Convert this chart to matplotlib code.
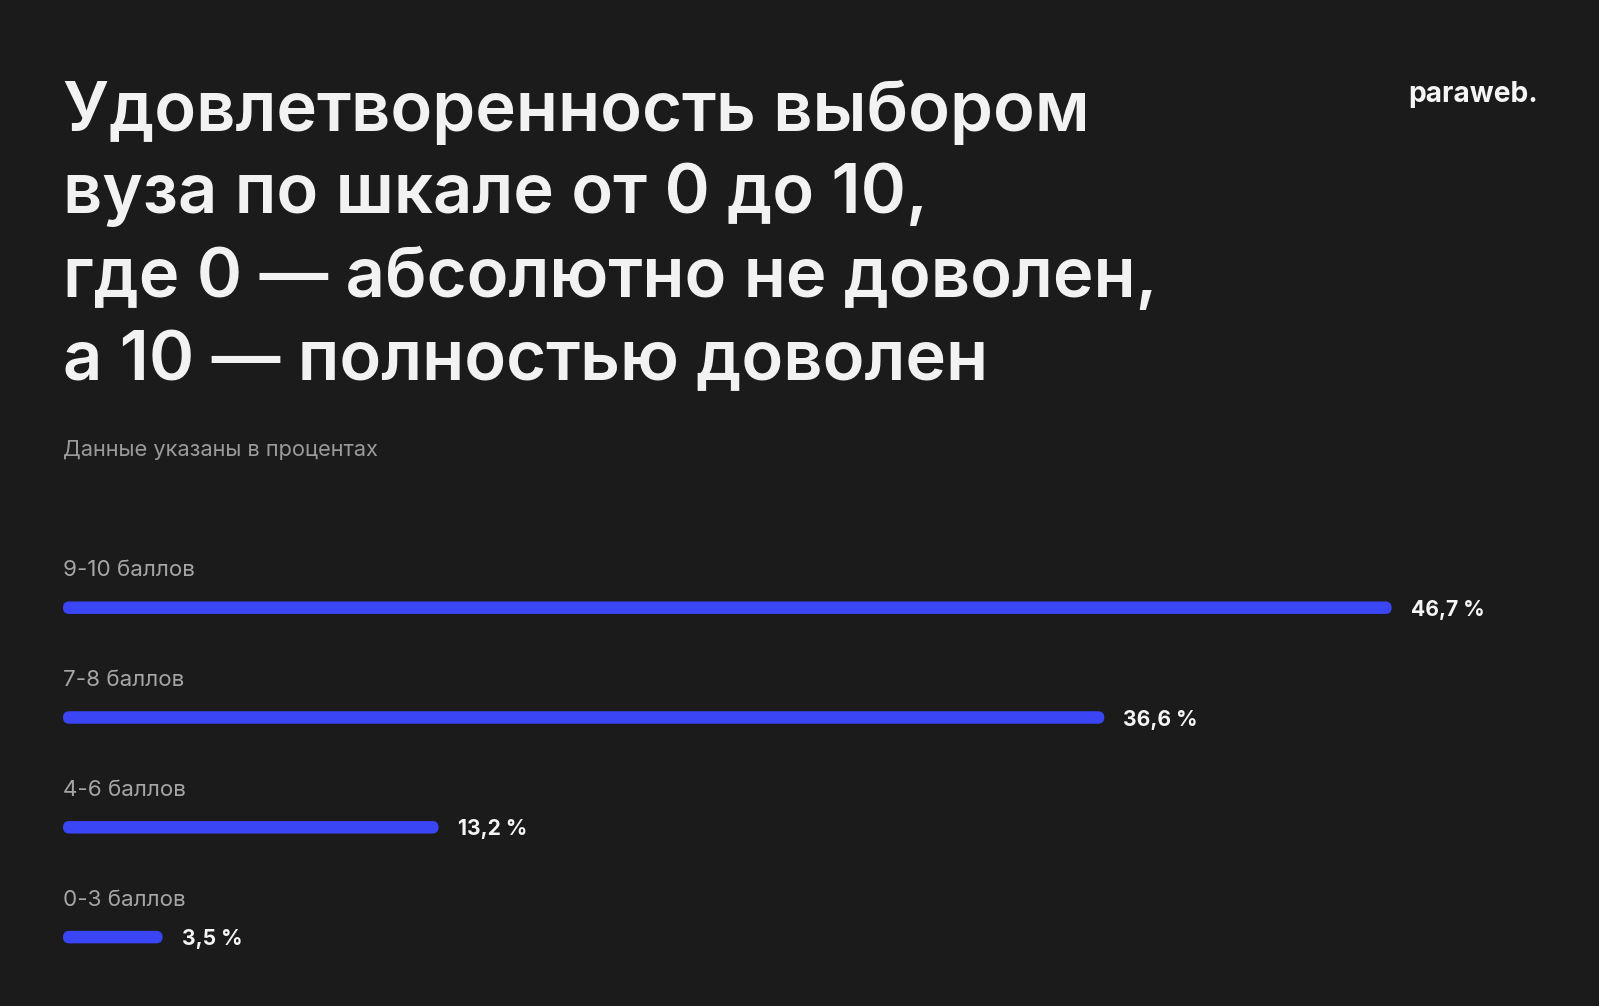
import matplotlib
matplotlib.use("Agg")
import matplotlib.pyplot as plt
from matplotlib.patches import FancyBboxPatch

plt.rcParams['font.family'] = ['Inter', 'DejaVu Sans']

# ==========================================
# Data
# ==========================================
categories = ['9-10 баллов', '7-8 баллов', '4-6 баллов', '0-3 баллов']
values = [46.7, 36.6, 13.2, 3.5]
value_labels = ['46,7 %', '36,6 %', '13,2 %', '3,5 %']

title_lines = ['Удовлетворенность выбором',
               'вуза по шкале от 0 до 10,',
               'где 0 — абсолютно не доволен,',
               'а 10 — полностью доволен']
subtitle = 'Данные указаны в процентах'
logo = 'paraweb.'

bg = '#1b1b1b'
bar_color = '#3a45f5'

W, H = 1599, 1006
fig = plt.figure(figsize=(W / 100, H / 100), dpi=100, facecolor=bg)

# title, one line at a time (baselines in px from top)
baselines = [131, 213, 297, 380]
for line, b in zip(title_lines, baselines):
    fig.text(63 / W, 1 - b / H, line, fontsize=49.5, fontweight='semibold',
             color='#f2f2f2', ha='left', va='baseline')

fig.text(63 / W, 1 - 456 / H, subtitle, fontsize=15.7, color='#9a9a9a',
         ha='left', va='baseline')
fig.text(1538 / W, 1 - 102 / H, logo, fontsize=20.3, fontweight='bold',
         color='#f5f5f5', ha='right', va='baseline')

# bars axes: 28.45 px per percent, 110 px between rows
px_per_pct = 28.45
px_per_row = 109.8
xmax = 50
ax = fig.add_axes([63 / W, (H - 992) / H, xmax * px_per_pct / W, 4 * px_per_row / H])
ax.set_facecolor(bg)
ax.set_xlim(0, xmax)
ax.set_ylim(3.5, -0.5)
ax.axis('off')

bar_h = 12.5 / px_per_row
r = 6.2 / px_per_pct
for i, (cat, v, lab) in enumerate(zip(categories, values, value_labels)):
    p = FancyBboxPatch((0, i - bar_h / 2), v, bar_h,
                       boxstyle=f'round,pad=0,rounding_size={r}',
                       mutation_aspect=px_per_pct / px_per_row,
                       fc=bar_color, ec='none')
    ax.add_patch(p)
    ax.text(0, i - 0.34, cat, fontsize=16.1, color='#a6a6a6', ha='left', va='center')
    ax.text(v + 19 / px_per_pct, i + 0.02, lab, fontsize=15.2, fontweight='bold',
            color='#f5f5f5', ha='left', va='center')

fig.savefig('out.png', dpi=100, facecolor=bg)
